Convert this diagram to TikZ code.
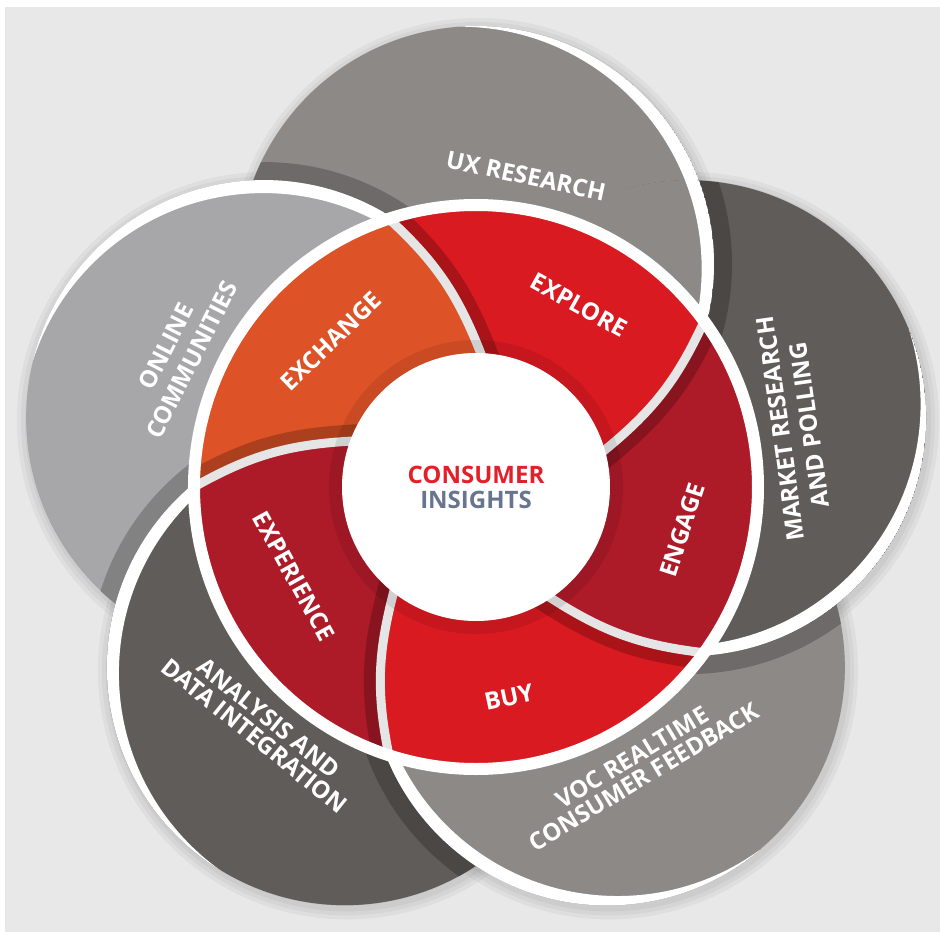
\documentclass[tikz,border=0pt]{standalone}
\usepackage{fontspec}
\setmainfont{Open Sans}
\usetikzlibrary{positioning,calc}

\definecolor{backdrop}{HTML}{E8E8E8}
\definecolor{greyLight}{HTML}{A7A7A9}
\definecolor{greyMid}{HTML}{8C8987}
\definecolor{greyDark}{HTML}{605C59}
\definecolor{redBright}{HTML}{DA1A21}
\definecolor{redDeep}{HTML}{AD1A28}
\definecolor{orangeX}{HTML}{DD5227}
\definecolor{seamgrey}{HTML}{E5E5E5}
\definecolor{hubred}{HTML}{E2202A}
\definecolor{hubslate}{HTML}{687590}

\tikzset{
  cast/.style={black, opacity=.22},
  seam/.style={draw=seamgrey, line width=9pt, line cap=rect},
  bubble label/.style={text=white, align=center, font=\bfseries\fontsize{24}{29}\selectfont},
  tight/.style={font=\bfseries\fontsize{24}{23}\selectfont},
  petal label/.style={text=white, font=\bfseries\fontsize{24}{26}\selectfont},
}

% one grey bubble with its white rim
\newcommand{\drawbubble}[2]{%
  \fill[#2] (#1:223) circle (238);
  \begin{scope}
    \clip (#1:223) circle (238);
    \fill[white, even odd rule] (#1:223) circle (238)
      ($(#1:223)+({#1+106}:17)$) circle (242);
  \end{scope}}
% one petal of the wheel
\newcommand{\wedgepath}[1]{(0,0) -- (#1:134) to[bend right=13] ({#1+20}:282)
  arc[start angle={#1+20}, end angle={#1-52}, radius=282]
  to[bend left=13] ({#1-72}:134) -- cycle}

\begin{document}
\begin{tikzpicture}[x=1pt, y=1pt]
\useasboundingbox (-476,-445) rectangle (464,487);
\fill[white] (-476,-445) rectangle (464,487);
\fill[backdrop] (-471,-445) rectangle (464,480);

% soft shadows
\foreach \a in {90,18,-54,-126,162}
  \foreach \r in {3,7,11}
    \fill[black, opacity=.04] ($(\a:223)+(2,-3)$) circle ({238+\r});

% outer bubbles
\drawbubble{90}{greyMid}
\foreach \under/\over/\col in {90/162/greyLight, 162/234/greyDark, 234/306/greyMid, 306/18/greyDark} {
  \begin{scope}
    \clip (\under:223) circle (238);
    \fill[cast] (\over:223) circle (256);
  \end{scope}
  \drawbubble{\over}{\col}
}
\begin{scope}
  \clip (18:223) circle (238);
  \fill[cast] (90:223) circle (256);
  \drawbubble{90}{greyMid}
\end{scope}

% the wheel
\begin{scope}
  \clip (0,0) circle (282);
  \foreach \a/\col in {88/redBright, 16/redDeep, -56/redBright, -128/redDeep, -200/orangeX}
    \fill[\col] \wedgepath{\a};
  \foreach \a in {88,16,-56,-128,-200} {
    \begin{scope}
      \clip \wedgepath{\a};
      \draw[cast, line width=33pt, line cap=rect] (\a:134) to[bend right=13] ({\a+20}:282);
    \end{scope}
    \draw[seam] (\a:134) to[bend right=13] ({\a+20}:282);
  }
\end{scope}
\draw[white, line width=12pt] (0,0) circle (282);
\fill[black, opacity=.09] (0,0) circle (147);
\fill[white] (0,0) circle (134);

\node[align=center, font=\bfseries\fontsize{24}{25}\selectfont] (hub) at (0,0)
  {\textcolor{hubred}{CONSUMER}\\\textcolor{hubslate}{INSIGHTS}};

\node[petal label, rotate=44] (exchange) at (-145,146) {EXCHANGE};
\node[petal label, rotate=-29] (explore) at (103,182) {EXPLORE};
\node[petal label, rotate=72] (engage) at (206,-43) {ENGAGE};
\node[petal label, rotate=12] (buy) at (33,-210) {BUY};
\node[petal label, rotate=-61] (experience) at (-182,-89) {EXPERIENCE};

\node[bubble label, rotate=-12] (ux) at (50,311) {UX RESEARCH};
\node[bubble label, rotate=63] (online) at (-297,134) {ONLINE\\COMMUNITIES};
\node[bubble label, rotate=98] (market) at (319,60) {MARKET RESEARCH\\AND POLLING};
\node[bubble label, tight, rotate=31] (voc) at (162,-280) {VOC REALTIME\\CONSUMER FEEDBACK};
\node[bubble label, tight, rotate=-39] (analysis) at (-214,-240) {ANALYSIS AND\\DATA INTEGRATION};
\end{tikzpicture}
\end{document}
